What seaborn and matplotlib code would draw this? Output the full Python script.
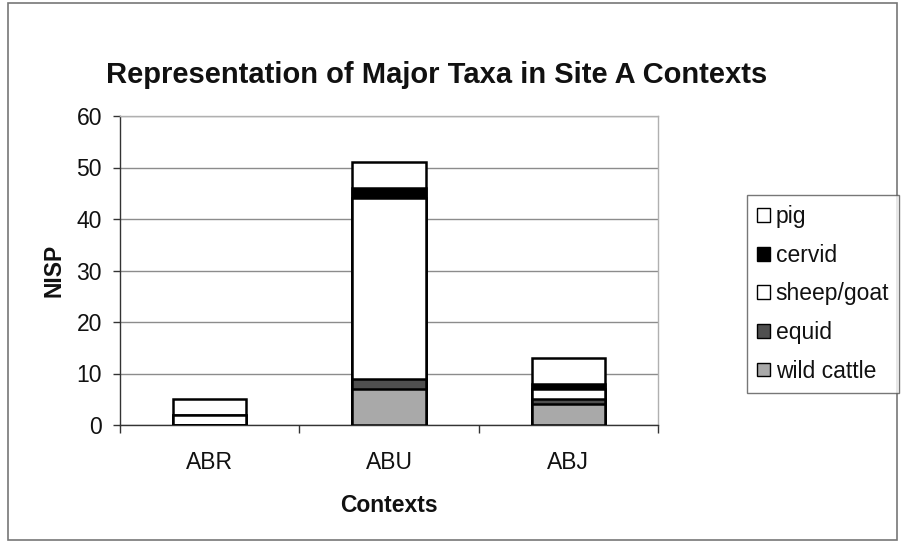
import matplotlib
matplotlib.use("Agg")
import matplotlib.pyplot as plt
from matplotlib.patches import Patch, Rectangle
import numpy as np
import pandas as pd
import seaborn as sns

contexts = ["ABR", "ABU", "ABJ"]
wild_cattle = [0, 7, 4]
equid = [0, 2, 1]
sheep_goat = [2, 35, 2]
cervid = [0, 2, 1]
pig = [3, 5, 5]

layers = [
    ("wild cattle", wild_cattle, "#a9a9a9"),
    ("equid", equid, "#4f4f4f"),
    ("sheep/goat", sheep_goat, "#ffffff"),
    ("cervid", cervid, "#000000"),
    ("pig", pig, "#ffffff"),
]

sns.set_theme(style="white")
plt.rcParams["font.family"] = ["Liberation Sans", "DejaVu Sans"]

fig = plt.figure(figsize=(9.03, 5.43), dpi=100)
ax = fig.add_axes([120 / 903, 1 - 425 / 543, (658 - 120) / 903, (425 - 116) / 543])

# cumulative tops, drawn from the tallest layer down so lower layers sit in front
cum = np.zeros(len(contexts))
tops = []
for name, vals, color in layers:
    cum = cum + np.array(vals, dtype=float)
    tops.append((name, cum.copy(), color))

for name, top, color in reversed(tops):
    df = pd.DataFrame({"context": contexts, "value": top})
    sns.barplot(data=df, x="context", y="value", color=color, width=0.41,
                edgecolor="black", linewidth=1.8, saturation=1, ax=ax,
                zorder=3)

ax.set_ylim(0, 60)
ax.set_xlim(-0.5, 2.5)
ax.set_yticks(range(0, 61, 10))
ax.yaxis.grid(True, color="#8c8c8c", linewidth=1.0, zorder=0)
ax.set_axisbelow(True)
for side in ["top", "right"]:
    ax.spines[side].set_color("#b0b0b0")
    ax.spines[side].set_linewidth(1.0)
for side in ["left", "bottom"]:
    ax.spines[side].set_color("#333333")
    ax.spines[side].set_linewidth(1.0)

ax.set_xticks([0, 1, 2])
ax.set_xticklabels(contexts)
ax.tick_params(axis="x", length=0, pad=19, labelsize=16.5, labelcolor="#111111")
ax.tick_params(axis="y", length=5, width=1, color="#333333", labelsize=16.5,
               pad=8, left=True, labelcolor="#111111")
# separator ticks between categories
ax.set_xticks([-0.5, 0.5, 1.5, 2.5], minor=True)
ax.tick_params(axis="x", which="minor", length=6, width=1, color="#333333", bottom=True)

ax.set_xlabel("Contexts", fontsize=16.5, fontweight="bold", labelpad=14, color="#111111")
ax.set_ylabel("NISP", fontsize=16.5, fontweight="bold", labelpad=8, color="#111111")

fig.text(437 / 903, 1 - 75 / 543, "Representation of Major Taxa in Site A Contexts",
         ha="center", va="center", fontsize=21, fontweight="bold", color="#111111")

handles = [Patch(facecolor=c, edgecolor="black", linewidth=1.0, label=n)
           for n, _, c in reversed(layers)]
leg = fig.legend(handles=handles, loc="upper left",
                 bbox_to_anchor=(747 / 903, 1 - 195 / 543),
                 frameon=True, fancybox=False, fontsize=16.5,
                 handlelength=0.55, handleheight=0.55, handletextpad=0.25,
                 labelspacing=0.68, borderpad=0.45, borderaxespad=0)
leg.get_frame().set_edgecolor("#555555")
leg.get_frame().set_linewidth(1.0)
for t in leg.get_texts():
    t.set_color("#111111")

fig.patches.append(Rectangle((8 / 903, 3 / 543), (897 - 8) / 903, (540 - 3) / 543,
                             transform=fig.transFigure, fill=False,
                             edgecolor="#777777", linewidth=1.2))

fig.savefig("out.png", dpi=100)
